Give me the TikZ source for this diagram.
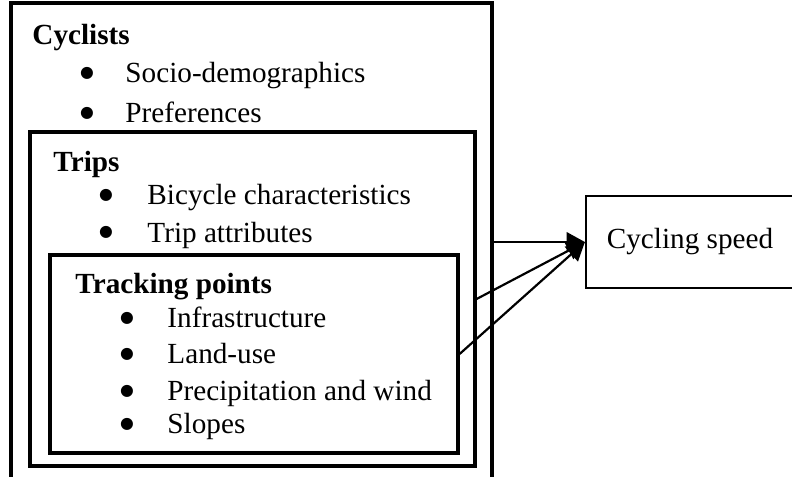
\documentclass[tikz,border=0pt]{standalone}
\usepackage{fontspec}
\setmainfont{Liberation Serif}
\newfontfamily\dotfont{DejaVu Sans}
\usetikzlibrary{fit,arrows.meta}

\tikzstyle{box}=[rectangle,
    draw=black,
    line width=1.3pt,
    inner sep=0pt]
\tikzstyle{head}=[anchor=base west, inner sep=0pt, font=\fontsize{12}{14}\selectfont\bfseries]
\tikzstyle{entry}=[anchor=base west, inner sep=0pt, font=\fontsize{12}{14}\selectfont]
\tikzstyle{dot}=[anchor=base, inner sep=0pt, font=\dotfont\fontsize{6.5}{7}\selectfont]
\tikzstyle{link}=[line width=0.9pt, -{Triangle[length=7.5pt,width=8pt]}]

\begin{document}
\begin{tikzpicture}[x=0.411pt, y=-0.411pt]
    \clip (0,0) rectangle (792,477);
    \node (cyclists) [box, fit={(11,3) (492,495)}] {};
    \node (trips) [box, fit={(30,132) (475,466)}] {};
    \node (tracking) [box, fit={(50,255) (458,453)}] {};
    \node (speed) [box, line width=0.9pt, minimum width=85.5pt, minimum height=37.8pt,
        font=\fontsize{12}{14}\selectfont] at (690,242) {Cycling speed};

    \node (cyclhead) [head] at (32,45) {Cyclists};
    \foreach \y/\t in {83/Socio-demographics, 123/Preferences} {
        \node (cycldot\y) [dot] at (87,\y-5) {●};
        \node (cyclitem\y) [entry] at (125,\y) {\t};
    }
    \node (triphead) [head] at (53,172) {Trips};
    \foreach \y/\t in {205/Bicycle characteristics, 242/Trip attributes} {
        \node (tripdot\y) [dot] at (106,\y-5) {●};
        \node (tripitem\y) [entry] at (147,\y) {\t};
    }
    \node (trackhead) [head] at (75,293) {Tracking points};
    \foreach \y/\t in {327/Infrastructure, 363/Land-use, 400/Precipitation and wind, 433/Slopes} {
        \node (trackdot\y) [dot] at (127,\y-5) {●};
        \node (trackitem\y) [entry] at (167,\y) {\t};
    }

    \draw [link] (cyclists.east |- speed.west) -- (speed.west);
    \draw [link] (trips.east) -- (speed.west);
    \draw [link] (tracking.east) -- (speed.west);
\end{tikzpicture}
\end{document}
